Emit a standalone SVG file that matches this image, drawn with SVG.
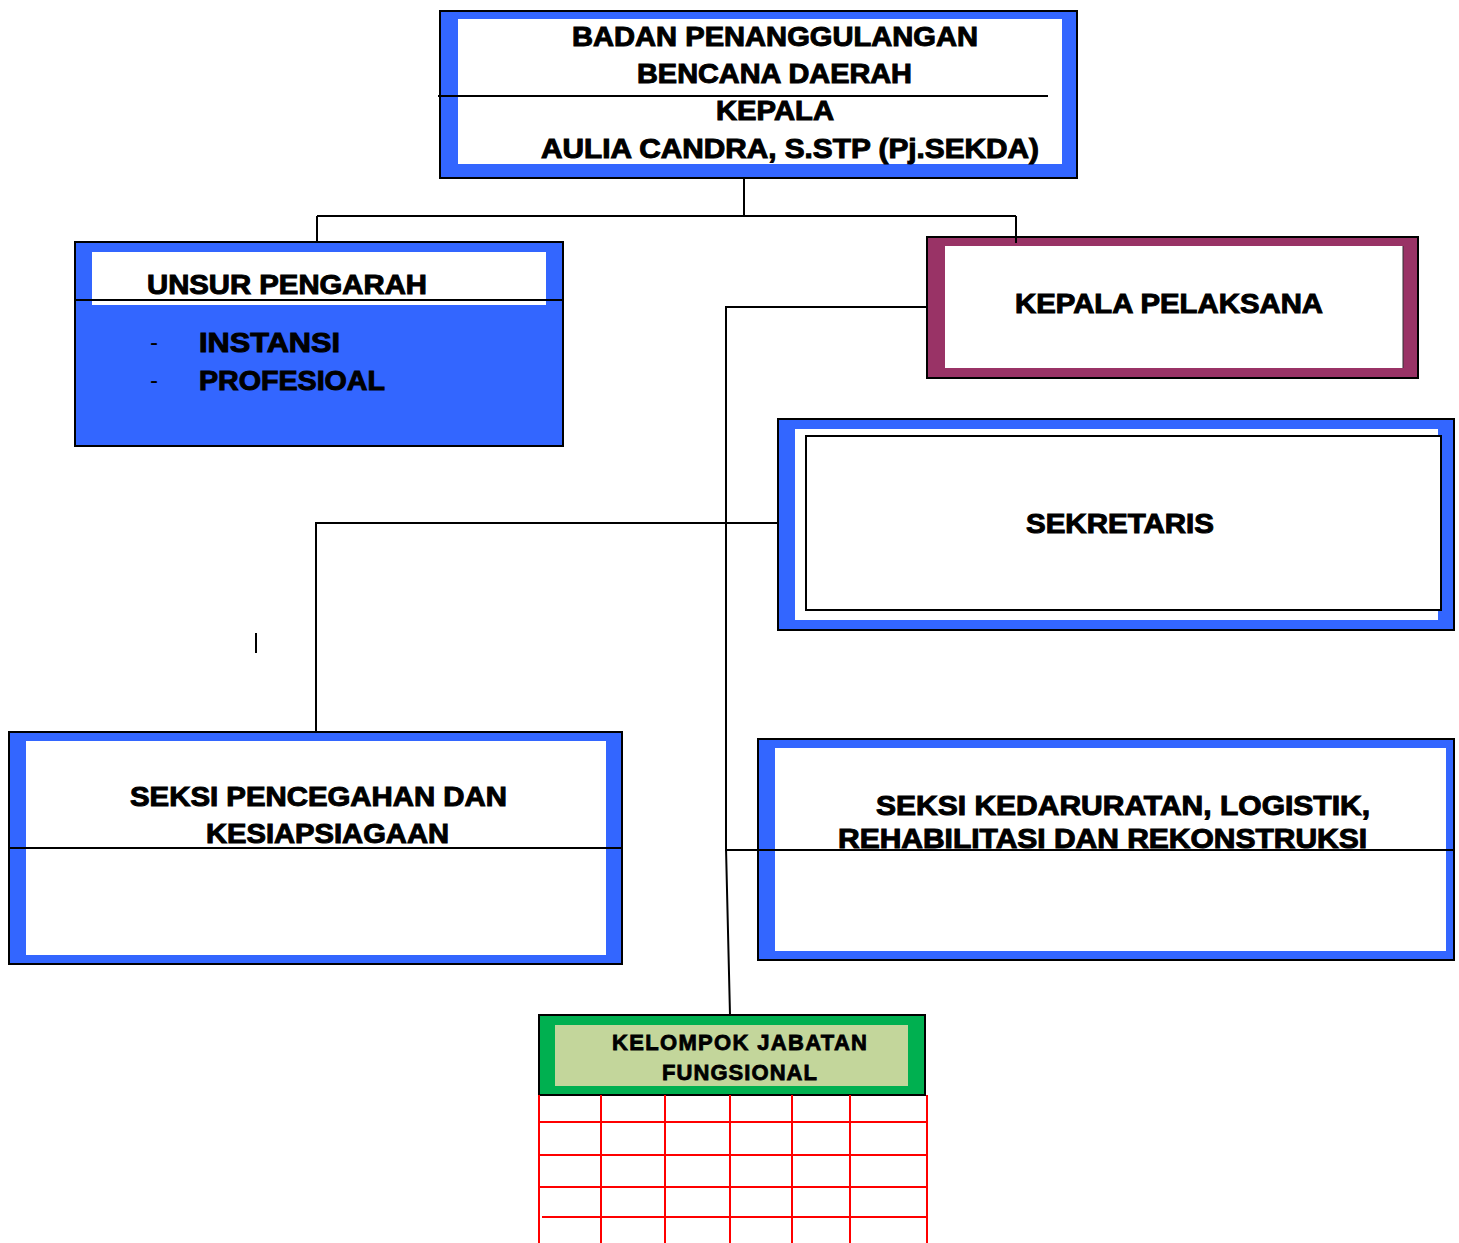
<svg xmlns="http://www.w3.org/2000/svg" width="1459" height="1243" viewBox="0 0 1459 1243">
<style>
.t{font-family:"Liberation Sans",Arial,sans-serif;font-weight:bold;fill:#000;stroke:#000;stroke-width:1;font-size:27px}
.s{font-size:22px;stroke-width:0.8}
.d{font-family:"Liberation Sans",Arial,sans-serif;font-weight:normal;fill:#000;font-size:24px}
.ob{fill:#3366FF;stroke:#000;stroke-width:2}
.w{fill:#fff}
.ln{stroke:#000;stroke-width:2;fill:none}
.rd{stroke:#FF0000;stroke-width:2;fill:none}
</style>
<rect width="1459" height="1243" fill="#fff"/>
<g id="badan">
<rect class="ob" x="440" y="11" width="637" height="167"/>
<rect class="w" x="458" y="19" width="604" height="145"/>
<line class="ln" x1="438" y1="96" x2="1048" y2="96"/>
<text class="t" x="572" y="46" textLength="406" lengthAdjust="spacingAndGlyphs">BADAN PENANGGULANGAN</text>
<text class="t" x="637" y="83" textLength="275" lengthAdjust="spacingAndGlyphs">BENCANA DAERAH</text>
<text class="t" x="716" y="120" textLength="118" lengthAdjust="spacingAndGlyphs">KEPALA</text>
<text class="t" x="541" y="158" textLength="498" lengthAdjust="spacingAndGlyphs">AULIA CANDRA, S.STP (Pj.SEKDA)</text>
</g>
<g id="unsur">
<rect class="ob" x="75" y="242" width="488" height="204"/>
<rect class="w" x="92" y="252" width="454" height="53"/>
<line class="ln" x1="75" y1="300" x2="563" y2="300"/>
<text class="t" x="147" y="294" textLength="280" lengthAdjust="spacingAndGlyphs">UNSUR PENGARAH</text>
<text class="d" x="150" y="350">-</text>
<text class="t" x="199" y="352" textLength="141" lengthAdjust="spacingAndGlyphs">INSTANSI</text>
<text class="d" x="150" y="388">-</text>
<text class="t" x="199" y="390" textLength="186" lengthAdjust="spacingAndGlyphs">PROFESIOAL</text>
</g>
<g id="pelaksana">
<rect x="927" y="237" width="491" height="141" fill="#993366" stroke="#000" stroke-width="2"/>
<rect class="w" x="945" y="246" width="458" height="122"/>
<line x1="1403" y1="246" x2="1403" y2="368" stroke="#333" stroke-width="1"/>
<text class="t" x="1015" y="313" textLength="308" lengthAdjust="spacingAndGlyphs">KEPALA PELAKSANA</text>
</g>
<g id="sekretaris">
<rect class="ob" x="778" y="419" width="676" height="211"/>
<rect class="w" x="795" y="429" width="643" height="191"/>
<rect x="806" y="436" width="635" height="174" fill="#fff" stroke="#000" stroke-width="2"/>
<text class="t" x="1026" y="533" textLength="188" lengthAdjust="spacingAndGlyphs">SEKRETARIS</text>
</g>
<g id="pencegahan">
<rect class="ob" x="9" y="732" width="613" height="232"/>
<rect class="w" x="26" y="741" width="580" height="214"/>
<line class="ln" x1="9" y1="848" x2="622" y2="848"/>
<text class="t" x="130" y="806" textLength="377" lengthAdjust="spacingAndGlyphs">SEKSI PENCEGAHAN DAN</text>
<text class="t" x="206" y="843" textLength="243" lengthAdjust="spacingAndGlyphs">KESIAPSIAGAAN</text>
</g>
<g id="kedaruratan">
<rect class="ob" x="758" y="739" width="696" height="221"/>
<rect class="w" x="775" y="748" width="671" height="203"/>
<line class="ln" x1="725" y1="850" x2="1454" y2="850"/>
<text class="t" x="876" y="815" textLength="494" lengthAdjust="spacingAndGlyphs">SEKSI KEDARURATAN, LOGISTIK,</text>
<text class="t" x="838" y="848" textLength="529" lengthAdjust="spacingAndGlyphs">REHABILITASI DAN REKONSTRUKSI</text>
</g>
<g id="fungsional">
<rect x="539" y="1015" width="386" height="80" fill="#00B050" stroke="#000" stroke-width="2"/>
<rect x="555" y="1025" width="353" height="61" fill="#C3D69B"/>
<text class="t s" x="612" y="1050" textLength="255" lengthAdjust="spacing">KELOMPOK JABATAN</text>
<text class="t s" x="662" y="1080" textLength="155" lengthAdjust="spacing">FUNGSIONAL</text>
</g>
<g id="grid">
<path class="rd" d="M539 1095V1243M601 1095V1243M665 1095V1243M730 1095V1243M792 1095V1243M850 1095V1243M927 1095V1243"/>
<path class="rd" d="M539 1122H927M539 1155H927M539 1187H927M542 1217H927"/>
</g>
<g id="connectors">
<path class="ln" d="M744 178V216M317 216H1016M317 216V242M1016 216V243"/>
<path class="ln" d="M927 307H726V848L730 1015"/>
<path class="ln" d="M778 523H316V732"/>
<line class="ln" x1="256" y1="633" x2="256" y2="653"/>
</g>
</svg>
